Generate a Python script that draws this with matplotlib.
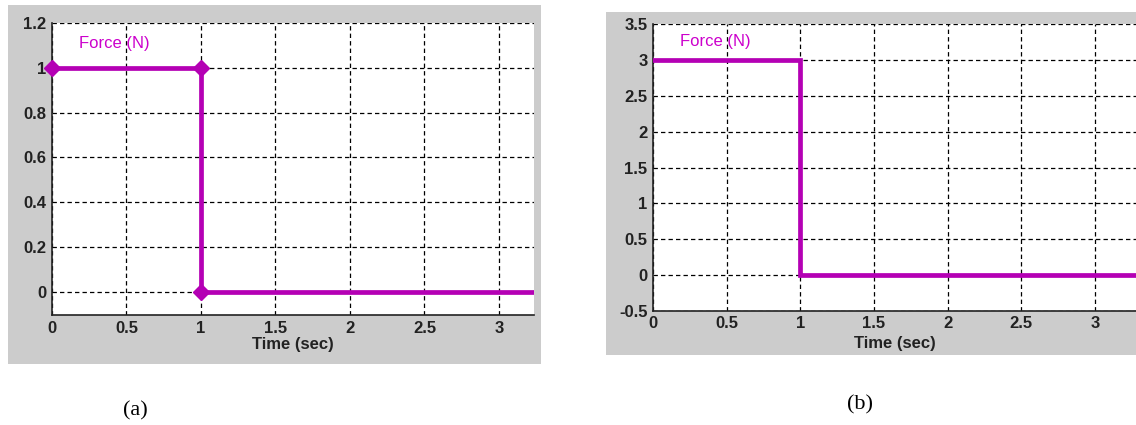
import matplotlib
matplotlib.use("Agg")
import matplotlib.pyplot as plt
from matplotlib.patches import Rectangle

# Data
t_a = [0, 1, 1, 3.3]
f_a = [1, 1, 0, 0]
t_b = [0, 1, 1, 3.4]
f_b = [3, 3, 0, 0]
xticks = [0, 0.5, 1, 1.5, 2, 2.5, 3]
xtick_labels = ["0", "0.5", "1", "1.5", "2", "2.5", "3"]
yticks_a = [0, 0.2, 0.4, 0.6, 0.8, 1, 1.2]
ytick_labels_a = ["0", "0.2", "0.4", "0.6", "0.8", "1", "1.2"]
yticks_b = [-0.5, 0, 0.5, 1, 1.5, 2, 2.5, 3, 3.5]
ytick_labels_b = ["-0.5", "0", "0.5", "1", "1.5", "2", "2.5", "3", "3.5"]
series_label = "Force (N)"
xlabel = "Time (sec)"
captions = ["(a)", "(b)"]

W, H = 1136, 425
fig = plt.figure(figsize=(W / 100, H / 100), dpi=100)
fig.patch.set_facecolor("white")

gray = "#cccccc"
mag = "#b400b4"
txtmag = "#cc00cc"

def fx(x):
    return x / W

def fy(y):
    return 1 - y / H

# gray backgrounds
fig.patches.append(Rectangle((fx(8), fy(364)), fx(541) - fx(8), fy(5) - fy(364),
                             transform=fig.transFigure, facecolor=gray, edgecolor="none", zorder=-10))
fig.patches.append(Rectangle((fx(606), fy(355)), fx(1136) - fx(606), fy(12) - fy(355),
                             transform=fig.transFigure, facecolor=gray, edgecolor="none", zorder=-10))

font = "Liberation Sans"
fs = 12

def setup(ax, xlim, ylim, yticks, ylabels, xpad, lpad):
    ax.set_facecolor("white")
    ax.set_xlim(*xlim)
    ax.set_ylim(*ylim)
    ax.set_xticks(xticks)
    ax.set_xticklabels(xtick_labels, fontfamily=font, fontweight="bold", fontsize=fs, color="#222222")
    ax.set_yticks(yticks)
    ax.set_yticklabels(ylabels, fontfamily=font, fontweight="bold", fontsize=fs, color="#222222")
    ax.tick_params(axis="y", length=0, pad=4)
    ax.tick_params(axis="x", length=0, pad=xpad)
    ax.grid(True, color="black", linestyle=(0, (3.5, 2.5)), linewidth=0.9)
    for s in ["top", "right"]:
        ax.spines[s].set_visible(False)
    for s in ["left", "bottom"]:
        ax.spines[s].set_color("#222222")
        ax.spines[s].set_linewidth(1.2)
    ax.set_xlabel(xlabel, fontfamily=font, fontweight="bold", fontsize=fs,
                  labelpad=lpad, color="#222222")

# Panel (a)
ax1 = fig.add_axes([fx(52), fy(315), fx(534) - fx(52), fy(23) - fy(315)])
setup(ax1, (0, 3.235), (-0.103, 1.2), yticks_a, ytick_labels_a, 4, 1)
ax1.plot(t_a, f_a, color=mag, linewidth=3.4, solid_joinstyle="miter", zorder=3)
ax1.plot(t_a[:3], f_a[:3], linestyle="none", marker="D", markersize=8.5,
         color=mag, clip_on=False, zorder=4)
ax1.text(0.18, 1.11, series_label, color=txtmag, fontfamily=font, fontsize=fs,
         va="center", ha="left")

# Panel (b)
ax2 = fig.add_axes([fx(653), fy(311), fx(1136) - fx(653), fy(24) - fy(311)])
setup(ax2, (0, 3.28), (-0.5, 3.5), yticks_b, ytick_labels_b, 3.5, 3.5)
ax2.plot(t_b, f_b, color=mag, linewidth=3.4, solid_joinstyle="miter", zorder=3)
ax2.text(0.18, 3.26, series_label, color=txtmag, fontfamily=font, fontsize=fs,
         va="center", ha="left")

fig.text(fx(135), fy(411), captions[0], fontfamily="Liberation Serif", fontsize=16,
         ha="center", va="center")
fig.text(fx(860), fy(405), captions[1], fontfamily="Liberation Serif", fontsize=16,
         ha="center", va="center")

fig.savefig("out.png", dpi=100)
